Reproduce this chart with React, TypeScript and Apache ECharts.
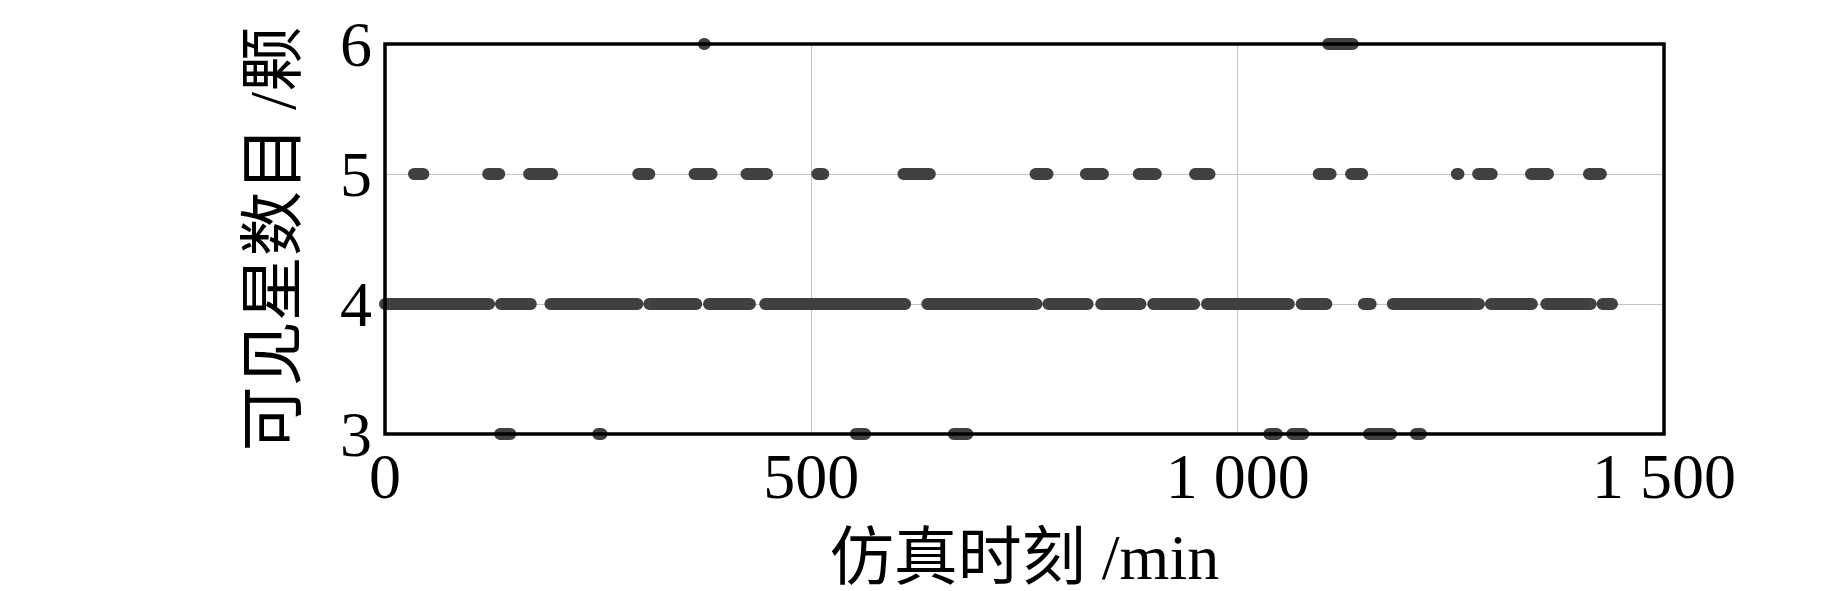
import React, { useEffect, useRef } from "react";
import * as echarts from "echarts";

// Intervals [start min, end min] during which the visible-satellite count held each value
const level6Segments: number[][] = [[374, 375], [1106, 1135]];
const level5Segments: number[][] = [
  [34, 45], [121, 134], [169, 196], [297, 310], [363, 383], [424, 448],
  [507, 514], [608, 639], [763, 777], [822, 842], [884, 904], [950, 967],
  [1095, 1109], [1133, 1146], [1257, 1259], [1282, 1298], [1344, 1364], [1412, 1426],
];
const level4Segments: number[][] = [
  [0, 122], [136, 171], [194, 296], [310, 365], [380, 428], [446, 610],
  [636, 764], [778, 824], [840, 886], [901, 949], [964, 1060], [1075, 1104],
  [1148, 1156], [1182, 1283], [1297, 1345], [1362, 1414], [1428, 1439],
];
const level3Segments: number[][] = [
  [135, 147], [250, 254], [552, 563], [667, 683], [1037, 1046], [1064, 1077],
  [1154, 1180], [1209, 1215],
];

const levels = [6, 5, 4, 3];
const segmentsByLevel = [level6Segments, level5Segments, level4Segments, level3Segments];

const xTicks = [0, 500, 1000, 1500];
const yTicks = [3, 4, 5, 6];

const xTitle = "仿真时刻 /min";
const yTitle = "可见星数目 /颗";

const FONT = "'Liberation Serif', 'Times New Roman', 'Noto Sans CJK SC', serif";

function buildLine(level: number, segs: number[][]) {
  const data: any[] = [];
  segs.forEach(([s, e]) => {
    data.push([s, level]);
    data.push([e, level]);
    data.push([e, "-"]);
  });
  return data;
}

export default function App() {
  const ref = useRef<HTMLDivElement>(null);
  useEffect(() => {
    if (!ref.current) return;
    const chart = echarts.init(ref.current, undefined, { renderer: "svg" });
    const series = levels.map((lv, i) => ({
      type: "line",
      name: String(lv),
      data: buildLine(lv, segmentsByLevel[i]),
      showSymbol: false,
      connectNulls: false,
      clip: false,
      lineStyle: { width: 12, cap: "round", color: "#404040" },
      itemStyle: { color: "#404040" },
      z: 5,
    }));
    chart.setOption({
      animation: false,
      backgroundColor: "#ffffff",
      grid: {
        left: 385,
        right: 179,
        top: 44,
        bottom: 157,
        containLabel: false,
        outerBoundsMode: "none",
        show: true,
        borderColor: "#000",
        borderWidth: 3.5,
        backgroundColor: "transparent",
        z: 10,
      },
      xAxis: {
        type: "value",
        min: xTicks[0],
        max: xTicks[xTicks.length - 1],
        interval: 500,
        name: xTitle,
        nameLocation: "middle",
        nameGap: 95,
        nameTextStyle: { fontFamily: FONT, fontSize: 64, lineHeight: 56, color: "#000" },
        axisLine: { show: false },
        axisTick: { show: false },
        axisLabel: {
          fontFamily: FONT,
          fontSize: 64,
          color: "#000",
          margin: 10,
          formatter: (v: number) => (v >= 1000 ? `${Math.floor(v / 1000)} ${String(v % 1000).padStart(3, "0")}` : String(v)),
        },
        splitLine: { show: true, lineStyle: { color: "#c4c4c4", width: 1 } },
      },
      yAxis: {
        type: "value",
        min: yTicks[0],
        max: yTicks[yTicks.length - 1],
        interval: 1,
        name: yTitle,
        nameLocation: "middle",
        nameGap: 80,
        nameTextStyle: { fontFamily: FONT, fontSize: 65, color: "#000" },
        axisLine: { show: false },
        axisTick: { show: false },
        axisLabel: { fontFamily: FONT, fontSize: 64, color: "#000", margin: 13 },
        splitLine: { show: true, lineStyle: { color: "#c4c4c4", width: 1 } },
      },
      series,
    });
    return () => chart.dispose();
  }, []);
  return (
    <div
      ref={ref}
      style={{ position: "fixed", left: 0, top: 0, width: 1843, height: 591, background: "#fff" }}
    />
  );
}
